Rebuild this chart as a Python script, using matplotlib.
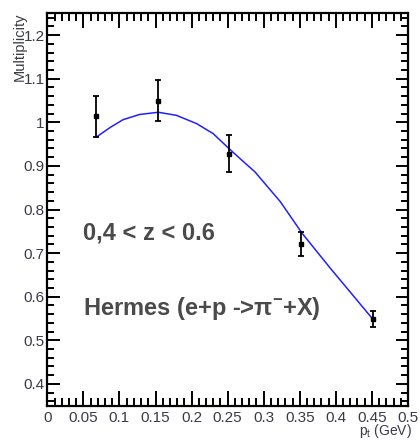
import numpy as np
from matplotlib import pyplot as plt
import matplotlib as mpl
from matplotlib.ticker import MultipleLocator

mpl.rcParams['font.family'] = ['Liberation Sans', 'DejaVu Sans']
mpl.rcParams['mathtext.fontset'] = 'custom'
mpl.rcParams['mathtext.rm'] = 'Liberation Sans'
mpl.rcParams['mathtext.bf'] = 'Liberation Sans:bold'

# measured points
pt = [0.068, 0.154, 0.252, 0.352, 0.452]
mult = [1.014, 1.049, 0.928, 0.721, 0.549]
err = [0.047, 0.047, 0.043, 0.027, 0.019]

# fitted curve
curve_x = [0.068, 0.087, 0.105, 0.128, 0.154, 0.179, 0.207, 0.230, 0.253,
           0.267, 0.288, 0.323, 0.353, 0.392, 0.452]
curve_y = [0.966, 0.988, 1.006, 1.018, 1.023, 1.016, 0.997, 0.974, 0.938,
           0.917, 0.886, 0.818, 0.746, 0.666, 0.547]

txt_col = '#3a3a48'

fig = plt.figure(figsize=(4.2, 4.42), dpi=100)
ax = fig.add_axes([0.1126, 0.0821, 0.8588, 0.8878])

ax.plot(curve_x, curve_y, color='#2020ff', lw=1.1)
ax.errorbar(pt, mult, yerr=err, fmt='s', color='black', ms=3.5,
            elinewidth=1.3, capsize=2, capthick=1.3)

ax.set_xlim(0, 0.5)
ax.set_ylim(0.35, 1.25)
ax.xaxis.set_minor_locator(MultipleLocator(0.01))
ax.yaxis.set_minor_locator(MultipleLocator(0.02))
ax.set_xticks(np.arange(0, 0.51, 0.05))
ax.set_xticklabels(['0', '0.05', '0.1', '0.15', '0.2', '0.25', '0.3',
                    '0.35', '0.4', '0.45', '0.5'])
ax.set_yticks(np.arange(0.4, 1.21, 0.1))
ax.set_yticklabels(['0.4', '0.5', '0.6', '0.7', '0.8', '0.9', '1', '1.1', '1.2'])

ax.tick_params(axis='both', which='both', direction='in', top=True, right=True,
               width=1.4, colors='black', labelcolor=txt_col, labelsize=11)
ax.tick_params(axis='x', which='major', length=11, pad=4)
ax.tick_params(axis='x', which='minor', length=5.5)
ax.tick_params(axis='y', which='major', length=9, pad=2)
ax.tick_params(axis='y', which='minor', length=4.8)
for s in ax.spines.values():
    s.set_linewidth(1.6)

ax.text(0.099, 0.44, '0,4 < z < 0.6', transform=ax.transAxes, fontsize=17,
        fontweight='bold', color='#4a4a4a', va='center')
ax.text(0.099, 0.249, r'Hermes (e+p ->$\mathbf{\pi^{-}}$+X)', transform=ax.transAxes,
        fontsize=17, fontweight='bold', color='#4a4a4a', va='center')

fig.text(0.048, 0.972, 'Multiplicity', rotation=90, ha='center', va='top',
         fontsize=10.5, color=txt_col)
fig.text(0.98, 0.004, r'p$_{\rm t}$ (GeV)', ha='right', va='bottom',
         fontsize=10, color=txt_col)

plt.savefig('out.png')
